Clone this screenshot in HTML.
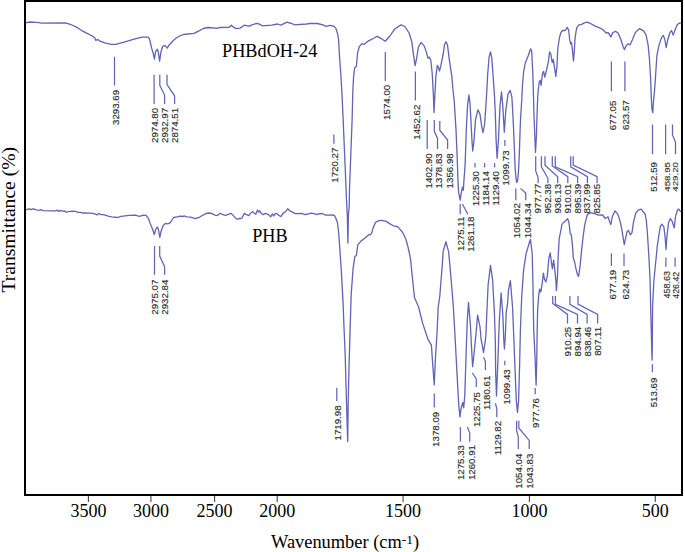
<!DOCTYPE html>
<html><head><meta charset="utf-8"><style>
html,body{margin:0;padding:0;background:#fff;}
body{width:685px;height:552px;overflow:hidden;position:relative;}
svg{position:absolute;left:0;top:0;}
.m{font-family:"Liberation Sans",sans-serif;font-size:9.3px;fill:#303030;stroke:#303030;stroke-width:0.15px;}
.t{font-family:"Liberation Serif",serif;font-size:18px;fill:#000;}
.lab{font-family:"Liberation Serif",serif;font-size:18px;fill:#000;}
</style></head><body>
<svg width="685" height="552" viewBox="0 0 685 552">
<polyline points="25.5,22.8 26.3,22.6 29.8,22.0 35.7,22.3 39.2,22.6 41.5,23.1 65.3,23.0 68.8,23.8 73.1,25.5 77.5,27.7 82.8,31.2 88.0,33.8 92.4,36.0 94.6,37.6 95.9,40.4 97.7,39.5 99.4,40.8 105.5,43.2 111.7,44.3 116.1,44.3 120.0,43.2 123.4,42.4 135.0,38.9 142.0,37.2 148.0,37.1 149.4,38.7 150.5,43.0 151.6,48.1 153.0,52.5 154.5,59.0 155.6,51.7 157.4,49.2 158.5,53.2 159.6,61.2 161.0,51.7 162.5,46.7 163.9,45.6 165.4,45.9 167.2,48.1 169.0,45.2 172.6,41.2 176.2,38.0 180.0,35.8 183.5,34.5 194.0,33.4 197.5,31.6 203.4,28.5 208.0,27.5 213.9,27.8 216.2,28.3 219.7,27.5 229.0,27.3 231.4,25.2 233.7,27.3 236.6,28.7 240.1,28.1 244.2,25.2 247.2,25.8 250.0,26.0 252.4,24.6 257.1,23.4 260.0,24.4 262.3,25.8 271.7,25.1 277.5,24.0 281.0,25.2 286.9,22.2 291.5,23.5 295.0,24.9 297.4,24.6 306.7,24.0 310.2,23.3 317.2,23.5 323.0,24.9 326.0,26.3 330.0,25.4 334.2,26.3 335.9,28.4 337.7,34.2 338.6,39.9 339.5,56.2 340.8,74.3 341.9,92.5 343.2,120.0 344.0,140.0 345.3,170.0 346.4,198.0 347.3,215.0 347.9,243.0 348.4,215.0 349.2,207.0 349.5,190.0 350.6,160.0 352.1,120.0 352.8,92.5 353.5,78.0 354.6,68.0 356.4,66.2 357.6,52.6 359.5,46.3 361.8,43.6 364.0,44.5 368.5,40.8 370.0,40.1 373.3,38.5 377.1,36.3 380.9,38.3 385.2,41.2 389.6,36.3 395.0,28.7 401.0,24.9 404.8,26.5 409.1,33.0 411.8,41.7 413.5,54.8 415.1,65.7 416.7,58.0 418.4,47.2 421.1,42.3 424.3,46.1 426.5,52.6 427.9,58.1 429.3,57.1 430.8,60.3 432.2,73.3 433.4,95.1 434.0,112.5 434.9,95.0 435.9,76.2 437.3,65.4 438.3,66.8 439.5,71.2 440.9,65.4 443.1,54.5 444.6,44.3 446.0,41.7 447.5,45.1 449.6,61.7 451.8,76.2 453.0,90.0 454.3,102.0 456.0,129.8 457.3,160.0 457.8,176.3 458.6,192.6 460.2,200.2 461.3,192.6 462.4,187.2 463.3,190.4 464.0,179.6 465.1,165.4 466.3,129.8 467.5,105.9 468.9,95.0 469.9,102.0 470.9,119.9 471.9,139.8 472.7,151.0 473.9,141.7 475.5,119.9 477.9,109.9 479.9,113.9 481.8,126.8 483.0,132.7 484.7,123.5 485.8,107.2 486.8,90.9 487.7,74.0 489.1,57.0 490.5,51.8 491.8,58.1 493.4,80.0 494.5,96.3 495.4,116.0 496.1,140.0 497.1,158.3 498.4,140.9 500.0,106.0 501.5,92.0 502.8,106.0 504.3,132.2 505.8,110.4 508.0,94.1 510.2,90.4 511.9,97.4 512.9,115.0 513.6,130.0 514.4,149.0 515.1,167.8 516.1,179.5 516.8,182.3 517.6,181.0 518.3,174.0 518.9,163.5 519.5,149.0 520.1,130.0 520.6,118.0 521.7,100.7 522.4,86.2 523.6,71.7 525.3,63.0 528.2,55.8 530.6,48.8 531.7,51.0 532.6,69.0 533.3,88.6 533.8,110.0 534.8,136.0 535.5,152.4 536.4,136.0 537.2,110.0 537.9,93.5 539.2,82.0 540.3,80.4 541.1,85.3 542.4,73.9 543.6,71.4 544.7,77.1 546.8,69.0 548.5,60.8 549.6,51.8 550.9,54.3 552.2,62.5 553.3,59.5 554.3,66.2 555.8,76.4 557.0,66.2 557.8,48.5 559.4,38.0 561.0,32.2 562.6,30.5 565.3,30.5 567.2,27.3 568.6,30.0 569.7,39.8 570.8,44.1 571.5,42.5 572.6,51.7 573.5,61.0 574.3,50.7 575.1,37.6 576.7,27.8 578.9,24.9 581.6,24.3 584.3,22.9 587.1,22.2 590.9,23.7 594.7,25.9 598.5,27.3 602.8,29.5 606.1,33.0 608.2,32.7 610.8,36.9 612.9,32.5 615.5,31.3 618.2,33.3 620.9,39.5 623.0,46.3 624.3,49.6 626.3,45.6 628.1,43.8 630.0,44.9 632.5,39.5 635.2,32.7 639.3,28.6 643.3,30.6 646.0,34.7 648.1,44.9 649.4,58.5 650.6,78.0 651.3,97.4 651.9,109.0 652.8,112.6 653.3,103.2 654.2,94.5 655.2,82.0 655.8,72.0 656.9,55.8 659.0,44.9 661.7,37.4 663.4,35.4 664.8,39.5 666.2,47.6 667.5,40.8 669.8,32.7 671.6,30.6 673.2,35.1 674.8,30.6 677.3,24.5 680.0,22.9 681.0,22.8" fill="none" stroke="#6262b6" stroke-width="1.3" stroke-linejoin="round"/>
<polyline points="25.5,209.8 26.2,209.6 29.3,208.8 31.0,209.6 32.8,208.8 35.4,209.5 38.5,210.5 40.6,209.6 43.3,210.7 50.3,210.8 55.5,210.9 57.3,210.1 58.6,211.4 59.9,210.5 62.5,211.2 64.3,210.9 66.0,212.1 68.7,211.6 72.2,211.2 75.7,211.4 77.4,212.3 80.9,212.3 82.7,213.1 84.0,213.0 90.6,213.1 94.1,213.7 97.0,214.9 98.7,213.5 101.0,214.7 103.5,214.6 108.2,216.1 111.7,216.9 117.5,217.5 121.0,216.4 129.2,215.4 135.0,215.2 139.7,216.4 143.2,215.2 146.1,215.4 148.5,218.7 150.2,223.4 152.6,229.2 154.3,234.5 155.8,229.2 157.5,226.9 158.6,230.4 159.8,237.4 161.3,230.4 163.1,225.7 165.4,223.4 167.7,223.9 170.1,222.8 173.6,217.5 177.1,216.9 180.0,216.1 182.6,216.5 184.4,216.0 187.0,216.9 190.5,217.1 195.3,218.6 199.3,217.3 202.8,215.3 206.3,213.4 208.9,213.0 211.5,213.4 215.0,215.1 217.2,215.6 220.3,213.2 222.9,214.7 225.5,215.3 228.2,214.4 231.2,213.4 233.4,215.6 236.5,219.1 240.0,218.5 241.8,218.2 244.4,213.4 246.6,214.7 248.8,215.6 250.5,213.4 252.3,211.6 254.0,213.0 255.8,214.3 257.5,210.1 258.8,212.1 259.7,210.8 261.0,213.0 263.2,214.7 265.4,213.4 268.0,214.3 270.7,216.9 272.4,213.8 273.7,216.0 275.5,213.4 277.2,213.8 279.0,215.6 281.2,216.5 282.9,213.4 285.1,212.1 287.7,208.8 289.9,210.8 292.6,212.1 295.2,213.6 302.4,213.5 304.7,214.6 311.7,213.1 316.4,214.3 322.2,213.5 325.7,215.1 330.0,215.2 332.7,214.9 334.5,215.6 335.7,218.0 337.4,222.6 338.6,232.0 339.9,250.0 341.3,270.8 343.0,301.4 344.1,330.0 345.2,355.0 346.5,403.0 347.7,441.4 348.2,403.0 349.0,368.0 350.1,330.0 351.2,294.3 353.1,268.4 354.8,256.6 356.4,255.4 357.8,244.8 360.7,241.3 365.4,237.7 368.9,234.5 370.0,235.0 371.6,233.4 373.3,227.4 375.4,222.5 378.2,220.9 381.4,220.3 386.3,221.4 389.6,223.6 393.4,225.8 397.2,226.5 400.4,229.6 403.2,233.4 405.9,239.3 408.0,247.0 409.7,254.6 410.8,261.1 411.7,271.0 414.5,297.6 418.6,307.0 422.7,323.4 428.1,339.7 431.4,345.1 432.7,364.1 434.2,385.0 435.4,358.7 437.1,331.5 438.2,307.0 439.8,296.2 441.7,271.7 442.3,265.3 443.1,251.7 445.9,241.7 448.6,251.7 449.9,265.3 451.3,281.7 453.1,303.4 454.4,325.0 455.6,347.0 457.2,377.1 458.7,404.2 459.9,416.9 461.2,407.8 462.7,402.4 463.7,407.8 464.8,395.2 465.6,370.0 466.4,345.0 467.3,320.0 468.5,302.5 470.3,323.3 471.4,345.0 472.6,366.7 473.5,359.0 474.4,350.0 476.3,330.5 477.6,315.1 480.0,326.9 481.2,340.0 482.0,343.9 483.5,352.6 485.2,341.7 485.9,335.0 486.7,316.0 488.1,285.2 490.5,265.3 492.6,279.8 494.4,312.4 495.3,340.0 495.7,374.3 496.5,396.0 497.8,363.5 498.6,340.0 499.3,321.4 501.1,293.0 502.9,316.0 503.8,340.0 504.4,349.0 505.3,337.0 506.2,312.4 507.6,303.5 508.4,290.7 510.4,280.7 512.6,307.8 513.5,330.0 514.9,365.3 516.3,400.6 517.5,412.4 518.6,400.6 519.6,365.3 520.4,330.0 521.7,297.0 523.5,270.9 526.1,253.5 530.4,239.3 532.2,253.5 533.0,286.0 533.7,330.0 535.1,358.2 536.1,385.3 536.8,358.0 537.2,330.0 537.6,310.9 538.6,296.4 539.6,289.1 540.8,292.0 542.2,283.3 543.4,273.2 544.4,279.0 545.9,281.9 547.3,276.1 548.8,258.7 550.2,252.9 551.7,264.5 552.4,268.8 553.6,260.1 554.6,267.4 556.0,281.9 556.4,290.6 557.5,276.1 558.2,255.8 559.2,239.0 560.4,232.5 562.0,224.3 563.6,222.4 566.1,220.3 567.7,218.6 569.0,222.7 570.2,233.3 571.3,234.9 572.3,243.9 573.4,258.6 574.2,260.2 575.9,268.4 577.5,274.9 578.6,276.5 580.0,266.7 581.6,250.4 583.2,235.8 584.8,224.3 587.3,214.6 590.5,212.6 595.4,213.8 598.3,215.2 602.6,215.0 605.3,218.5 608.0,216.8 609.7,221.7 610.8,224.5 612.4,216.3 615.1,210.9 617.8,214.1 620.0,220.7 622.0,230.4 623.5,240.2 624.3,244.6 625.4,239.1 627.1,231.5 628.5,230.4 630.3,234.8 632.0,232.6 633.6,221.7 635.8,213.0 638.5,209.8 641.2,209.2 643.4,212.0 645.1,214.0 646.3,220.4 647.4,233.0 648.2,245.7 648.8,255.3 650.1,280.5 650.6,305.8 651.4,336.0 651.9,356.0 652.1,360.0 652.3,345.0 652.6,305.8 653.9,280.5 656.4,255.3 657.3,246.0 658.8,235.6 660.3,226.7 661.8,224.2 663.8,226.7 665.1,236.9 666.0,249.5 666.9,236.9 668.5,222.9 670.4,218.5 672.3,221.6 674.2,228.0 675.5,216.6 677.4,210.2 678.7,209.0 680.3,211.5 681.0,211.2" fill="none" stroke="#6262b6" stroke-width="1.3" stroke-linejoin="round"/>
<polyline points="114.5,56.8 114.5,85.5" fill="none" stroke="#6464b6" stroke-width="1.25"/>
<text transform="translate(119.2,89.9) rotate(-90) scale(1.045,1.0)" text-anchor="end" class="m">3293.69</text>
<polyline points="154.1,74.7 154.1,103.9" fill="none" stroke="#6464b6" stroke-width="1.25"/>
<text transform="translate(158.2,107.9) rotate(-90) scale(1.045,1.0)" text-anchor="end" class="m">2974.80</text>
<polyline points="159.8,74.7 159.8,85.3 164.6,95.1 164.6,103.9" fill="none" stroke="#6464b6" stroke-width="1.25"/>
<text transform="translate(168.0,107.9) rotate(-90) scale(1.045,1.0)" text-anchor="end" class="m">2932.97</text>
<polyline points="167.0,74.7 167.0,84.6 174.6,95.8 174.6,103.9" fill="none" stroke="#6464b6" stroke-width="1.25"/>
<text transform="translate(178.2,107.9) rotate(-90) scale(1.045,1.0)" text-anchor="end" class="m">2874.51</text>
<polyline points="333.9,134.6 333.9,143.8" fill="none" stroke="#6464b6" stroke-width="1.25"/>
<text transform="translate(338.4,147.6) rotate(-90) scale(1.045,1.0)" text-anchor="end" class="m">1720.27</text>
<polyline points="385.3,51.9 385.3,81.1" fill="none" stroke="#6464b6" stroke-width="1.25"/>
<text transform="translate(389.7,84.8) rotate(-90) scale(1.045,1.0)" text-anchor="end" class="m">1574.00</text>
<polyline points="415.4,71.6 415.4,100.4" fill="none" stroke="#6464b6" stroke-width="1.25"/>
<text transform="translate(420.0,104.6) rotate(-90) scale(1.045,1.0)" text-anchor="end" class="m">1452.62</text>
<polyline points="427.2,119.9 427.2,149.0" fill="none" stroke="#6464b6" stroke-width="1.25"/>
<text transform="translate(431.5,153.3) rotate(-90) scale(1.045,1.0)" text-anchor="end" class="m">1402.90</text>
<polyline points="434.3,119.9 434.3,131.0 437.5,138.4 437.5,149.0" fill="none" stroke="#6464b6" stroke-width="1.25"/>
<text transform="translate(441.8,153.3) rotate(-90) scale(1.045,1.0)" text-anchor="end" class="m">1378.83</text>
<polyline points="439.8,120.9 439.8,130.2 447.6,140.0 447.6,149.0" fill="none" stroke="#6464b6" stroke-width="1.25"/>
<text transform="translate(452.7,153.3) rotate(-90) scale(1.045,1.0)" text-anchor="end" class="m">1356.98</text>
<polyline points="460.2,204.0 460.2,214.3" fill="none" stroke="#6464b6" stroke-width="1.25"/>
<text transform="translate(463.7,216.6) rotate(-90) scale(1.045,1.0)" text-anchor="end" class="m">1275.11</text>
<polyline points="462.4,204.0 467.8,214.3" fill="none" stroke="#6464b6" stroke-width="1.25"/>
<text transform="translate(473.7,216.6) rotate(-90) scale(1.045,1.0)" text-anchor="end" class="m">1261.18</text>
<polyline points="475.0,163.0 475.0,167.4" fill="none" stroke="#6464b6" stroke-width="1.25"/>
<text transform="translate(479.4,171.1) rotate(-90) scale(1.045,1.0)" text-anchor="end" class="m">1225.30</text>
<polyline points="484.6,163.0 484.6,167.4" fill="none" stroke="#6464b6" stroke-width="1.25"/>
<text transform="translate(489.3,171.1) rotate(-90) scale(1.045,1.0)" text-anchor="end" class="m">1184.14</text>
<polyline points="494.6,163.0 494.6,167.4" fill="none" stroke="#6464b6" stroke-width="1.25"/>
<text transform="translate(498.9,171.1) rotate(-90) scale(1.045,1.0)" text-anchor="end" class="m">1129.40</text>
<polyline points="504.9,140.0 504.9,146.0" fill="none" stroke="#6464b6" stroke-width="1.25"/>
<text transform="translate(508.7,150.4) rotate(-90) scale(1.045,1.0)" text-anchor="end" class="m">1099.73</text>
<polyline points="515.8,188.4 515.8,200.2" fill="none" stroke="#6464b6" stroke-width="1.25"/>
<text transform="translate(520.3,203.1) rotate(-90) scale(1.045,1.0)" text-anchor="end" class="m">1054.02</text>
<polyline points="520.5,188.4 525.7,193.1 525.7,200.2" fill="none" stroke="#6464b6" stroke-width="1.25"/>
<text transform="translate(530.7,203.1) rotate(-90) scale(1.045,1.0)" text-anchor="end" class="m">1044.34</text>
<polyline points="535.7,156.3 535.7,171.0 538.1,177.5 538.1,183.2" fill="none" stroke="#6464b6" stroke-width="1.25"/>
<text transform="translate(541.4,183.9) rotate(-90) scale(1.045,1.0)" text-anchor="end" class="m">977.77</text>
<polyline points="541.4,156.3 541.4,166.9 547.9,178.3 547.9,183.2" fill="none" stroke="#6464b6" stroke-width="1.25"/>
<text transform="translate(550.9,183.9) rotate(-90) scale(1.045,1.0)" text-anchor="end" class="m">952.38</text>
<polyline points="545.0,156.3 545.0,165.3 557.7,176.7 557.7,183.2" fill="none" stroke="#6464b6" stroke-width="1.25"/>
<text transform="translate(560.7,183.9) rotate(-90) scale(1.045,1.0)" text-anchor="end" class="m">936.13</text>
<polyline points="552.3,156.3 552.3,166.0 567.8,176.7 567.8,183.2" fill="none" stroke="#6464b6" stroke-width="1.25"/>
<text transform="translate(570.8,183.9) rotate(-90) scale(1.045,1.0)" text-anchor="end" class="m">910.01</text>
<polyline points="555.3,156.3 555.3,166.9 577.6,176.7 577.6,183.2" fill="none" stroke="#6464b6" stroke-width="1.25"/>
<text transform="translate(580.6,183.9) rotate(-90) scale(1.045,1.0)" text-anchor="end" class="m">895.39</text>
<polyline points="570.7,156.3 570.7,166.9 587.4,176.7 587.4,183.2" fill="none" stroke="#6464b6" stroke-width="1.25"/>
<text transform="translate(590.2,183.9) rotate(-90) scale(1.045,1.0)" text-anchor="end" class="m">837.99</text>
<polyline points="573.2,156.3 573.2,165.0 597.1,176.7 597.1,183.2" fill="none" stroke="#6464b6" stroke-width="1.25"/>
<text transform="translate(600.3,183.9) rotate(-90) scale(1.045,1.0)" text-anchor="end" class="m">825.85</text>
<polyline points="611.4,61.6 611.4,91.2" fill="none" stroke="#6464b6" stroke-width="1.25"/>
<text transform="translate(615.6,100.6) rotate(-90) scale(1.045,1.0)" text-anchor="end" class="m">677.05</text>
<polyline points="624.9,61.6 624.9,91.2" fill="none" stroke="#6464b6" stroke-width="1.25"/>
<text transform="translate(629.0,100.3) rotate(-90) scale(1.045,1.0)" text-anchor="end" class="m">623.57</text>
<polyline points="652.5,124.5 652.5,154.2" fill="none" stroke="#6464b6" stroke-width="1.25"/>
<text transform="translate(657.1,162.0) rotate(-90) scale(1.045,1.0)" text-anchor="end" class="m">512.59</text>
<polyline points="665.6,124.5 665.6,154.2" fill="none" stroke="#6464b6" stroke-width="1.25"/>
<text transform="translate(670.2,162.0) rotate(-90) scale(1.045,0.82)" text-anchor="end" class="m">458.95</text>
<polyline points="672.5,124.5 672.5,135.0 675.5,142.3 675.5,154.2" fill="none" stroke="#6464b6" stroke-width="1.25"/>
<text transform="translate(678.4,162.0) rotate(-90) scale(1.045,0.68)" text-anchor="end" class="m">429.20</text>
<polyline points="154.5,246.0 154.5,274.8" fill="none" stroke="#6464b6" stroke-width="1.25"/>
<text transform="translate(158.1,279.6) rotate(-90) scale(1.045,1.0)" text-anchor="end" class="m">2975.07</text>
<polyline points="159.7,246.0 159.7,256.1 164.6,266.7 164.6,274.8" fill="none" stroke="#6464b6" stroke-width="1.25"/>
<text transform="translate(168.4,279.6) rotate(-90) scale(1.045,1.0)" text-anchor="end" class="m">2932.84</text>
<polyline points="336.8,387.7 336.8,400.9" fill="none" stroke="#6464b6" stroke-width="1.25"/>
<text transform="translate(341.3,405.4) rotate(-90) scale(1.045,1.0)" text-anchor="end" class="m">1719.98</text>
<polyline points="434.3,393.6 434.3,407.5" fill="none" stroke="#6464b6" stroke-width="1.25"/>
<text transform="translate(438.8,411.8) rotate(-90) scale(1.045,1.0)" text-anchor="end" class="m">1378.09</text>
<polyline points="460.4,427.1 460.4,441.7" fill="none" stroke="#6464b6" stroke-width="1.25"/>
<text transform="translate(464.0,445.0) rotate(-90) scale(1.045,1.0)" text-anchor="end" class="m">1275.33</text>
<polyline points="467.3,427.1 469.7,432.8 469.7,441.7" fill="none" stroke="#6464b6" stroke-width="1.25"/>
<text transform="translate(474.6,445.0) rotate(-90) scale(1.045,1.0)" text-anchor="end" class="m">1260.91</text>
<polyline points="472.4,373.0 476.3,379.0 476.3,387.1" fill="none" stroke="#6464b6" stroke-width="1.25"/>
<text transform="translate(479.6,392.0) rotate(-90) scale(1.045,1.0)" text-anchor="end" class="m">1225.75</text>
<polyline points="483.6,357.2 485.4,361.7 485.4,369.9" fill="none" stroke="#6464b6" stroke-width="1.25"/>
<text transform="translate(489.6,375.6) rotate(-90) scale(1.045,1.0)" text-anchor="end" class="m">1180.61</text>
<polyline points="495.4,403.4 496.8,408.6 496.8,417.2" fill="none" stroke="#6464b6" stroke-width="1.25"/>
<text transform="translate(501.0,420.9) rotate(-90) scale(1.045,1.0)" text-anchor="end" class="m">1129.82</text>
<polyline points="504.8,360.8 504.8,365.3" fill="none" stroke="#6464b6" stroke-width="1.25"/>
<text transform="translate(509.5,369.3) rotate(-90) scale(1.045,1.0)" text-anchor="end" class="m">1099.43</text>
<polyline points="516.6,420.7 516.6,430.1 518.3,437.0 518.3,449.1" fill="none" stroke="#6464b6" stroke-width="1.25"/>
<text transform="translate(521.6,453.6) rotate(-90) scale(1.045,1.0)" text-anchor="end" class="m">1054.04</text>
<polyline points="518.8,420.7 518.8,428.0 529.2,440.4 529.2,449.1" fill="none" stroke="#6464b6" stroke-width="1.25"/>
<text transform="translate(532.8,453.6) rotate(-90) scale(1.045,1.0)" text-anchor="end" class="m">1043.83</text>
<polyline points="535.2,388.0 535.2,394.3" fill="none" stroke="#6464b6" stroke-width="1.25"/>
<text transform="translate(539.4,398.2) rotate(-90) scale(1.045,1.0)" text-anchor="end" class="m">977.76</text>
<polyline points="552.7,295.9 552.7,303.5 567.5,314.4 567.5,323.4" fill="none" stroke="#6464b6" stroke-width="1.25"/>
<text transform="translate(571.3,326.8) rotate(-90) scale(1.045,1.0)" text-anchor="end" class="m">910.25</text>
<polyline points="555.4,295.9 555.4,304.4 577.5,314.4 577.5,323.4" fill="none" stroke="#6464b6" stroke-width="1.25"/>
<text transform="translate(581.3,326.8) rotate(-90) scale(1.045,1.0)" text-anchor="end" class="m">894.94</text>
<polyline points="569.9,295.9 569.9,304.4 587.1,314.4 587.1,323.4" fill="none" stroke="#6464b6" stroke-width="1.25"/>
<text transform="translate(590.7,326.8) rotate(-90) scale(1.045,1.0)" text-anchor="end" class="m">838.46</text>
<polyline points="578.0,295.9 578.0,304.0 597.6,314.4 597.6,323.4" fill="none" stroke="#6464b6" stroke-width="1.25"/>
<text transform="translate(600.9,326.8) rotate(-90) scale(1.045,1.0)" text-anchor="end" class="m">807.11</text>
<polyline points="611.4,253.4 611.4,266.0" fill="none" stroke="#6464b6" stroke-width="1.25"/>
<text transform="translate(615.8,269.8) rotate(-90) scale(1.045,1.0)" text-anchor="end" class="m">677.19</text>
<polyline points="624.0,253.4 624.0,266.0" fill="none" stroke="#6464b6" stroke-width="1.25"/>
<text transform="translate(628.7,269.8) rotate(-90) scale(1.045,1.0)" text-anchor="end" class="m">624.73</text>
<polyline points="652.4,364.1 652.4,372.2" fill="none" stroke="#6464b6" stroke-width="1.25"/>
<text transform="translate(656.6,377.6) rotate(-90) scale(1.045,1.0)" text-anchor="end" class="m">513.69</text>
<polyline points="665.9,257.6 665.9,266.8" fill="none" stroke="#6464b6" stroke-width="1.25"/>
<text transform="translate(669.7,271.1) rotate(-90) scale(0.961,0.9)" text-anchor="end" class="m">458.63</text>
<polyline points="675.1,257.6 675.1,266.8" fill="none" stroke="#6464b6" stroke-width="1.25"/>
<text transform="translate(679.2,271.7) rotate(-90) scale(0.951,0.9)" text-anchor="end" class="m">426.42</text>
<rect x="25" y="1" width="657" height="494" fill="none" stroke="#000" stroke-width="2"/>
<line x1="88.4" y1="496" x2="88.4" y2="502" stroke="#444" stroke-width="1.1"/>
<text x="88.4" y="517" text-anchor="middle" class="t">3500</text>
<line x1="150.9" y1="496" x2="150.9" y2="502" stroke="#444" stroke-width="1.1"/>
<text x="150.9" y="517" text-anchor="middle" class="t">3000</text>
<line x1="214.6" y1="496" x2="214.6" y2="502" stroke="#444" stroke-width="1.1"/>
<text x="214.6" y="517" text-anchor="middle" class="t">2500</text>
<line x1="277.2" y1="496" x2="277.2" y2="502" stroke="#444" stroke-width="1.1"/>
<text x="277.2" y="517" text-anchor="middle" class="t">2000</text>
<line x1="403.1" y1="496" x2="403.1" y2="502" stroke="#444" stroke-width="1.1"/>
<text x="403.1" y="517" text-anchor="middle" class="t">1500</text>
<line x1="529.4" y1="496" x2="529.4" y2="502" stroke="#444" stroke-width="1.1"/>
<text x="529.4" y="517" text-anchor="middle" class="t">1000</text>
<line x1="655.3" y1="496" x2="655.3" y2="502" stroke="#444" stroke-width="1.1"/>
<text x="655.3" y="517" text-anchor="middle" class="t">500</text>
<text x="222.0" y="57.1" class="lab" style="font-size:18.25px">PHBdOH-24</text>
<text x="252.2" y="241.8" class="lab" style="font-size:18.2px">PHB</text>
<text transform="translate(14.6,292.6) rotate(-90)" class="lab" style="font-size:19.6px">Transmittance (%)</text>
<text x="271" y="547.8" class="lab" style="font-size:18.4px">Wavenumber (cm<tspan dy="-4" font-size="13.5">-1</tspan><tspan dy="4">)</tspan></text>
</svg>
</body></html>
